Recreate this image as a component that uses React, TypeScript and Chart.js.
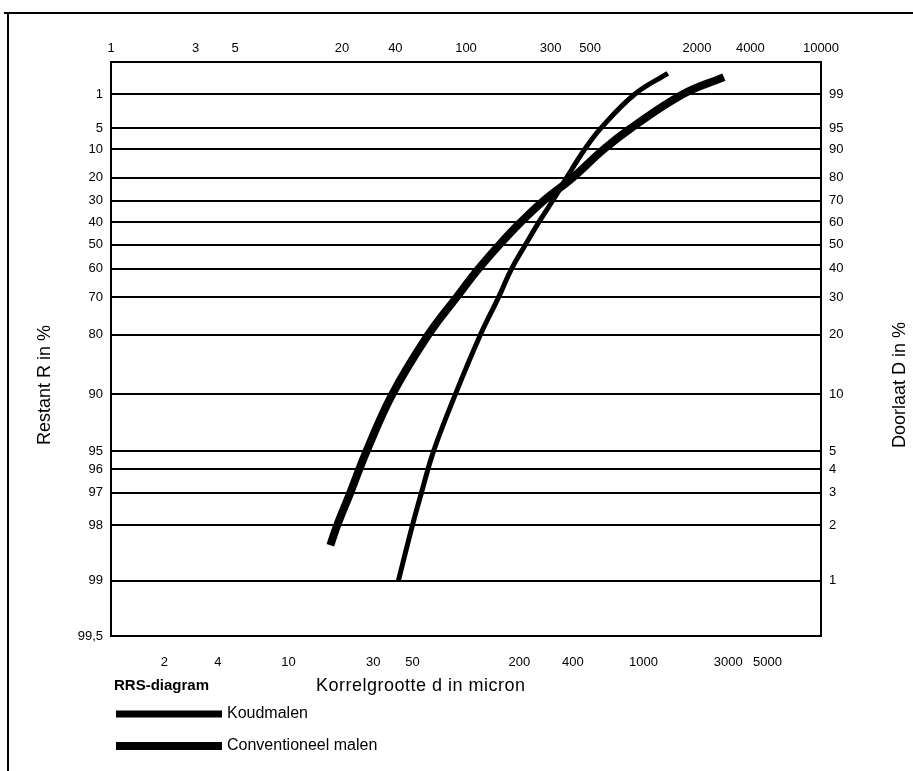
import React, { useEffect, useRef } from "react";
import { Chart, registerables } from "chart.js";

Chart.register(...registerables);

// ---- Data ----
// Restant (R, %) tick values on the RRS (double-log) axis
const R_TICKS = [0.1, 1, 5, 10, 20, 30, 40, 50, 60, 70, 80, 90, 95, 96, 97, 98, 99, 99.5];
const R_LABELS = ["", "1", "5", "10", "20", "30", "40", "50", "60", "70", "80", "90", "95", "96", "97", "98", "99", "99,5"];
const D_LABELS = ["", "99", "95", "90", "80", "70", "60", "50", "40", "30", "20", "10", "5", "4", "3", "2", "1", ""];
const X_TOP_TICKS = [1, 3, 5, 20, 40, 100, 300, 500, 2000, 4000, 10000];
const X_BOTTOM_TICKS = [2, 4, 10, 30, 50, 200, 400, 1000, 3000, 5000];

// Koudmalen (thinner curve): grain size d (micron) and restant R (%)
const KOUD_D = [41.6, 49.9, 56.1, 65.6, 87.2, 120.7, 152.5, 180.6, 216.6, 256.7, 307.6, 368.9, 466.6, 574, 892, 1371];
const KOUD_R = [99, 98, 97, 95, 90, 80, 70, 60, 50, 40, 30, 20, 10, 5, 1, 0.25];

// Conventioneel malen (thick curve)
const CONV_D = [17.2, 18.8, 22.3, 27.5, 38.5, 61.4, 88.4, 117.7, 154.5, 202.9, 273.6, 399, 597, 847, 1665, 2837];
const CONV_R = [98.44, 98, 97, 95, 90, 80, 70, 60, 50, 40, 30, 20, 10, 5, 1, 0.33];

const SERIES_NAMES = ["Koudmalen", "Conventioneel malen"];
const DIAGRAM_TITLE = "RRS-diagram";
const X_TITLE = "Korrelgrootte d in micron";
const Y_TITLE = "Restant R in %";
const Y2_TITLE = "Doorlaat D in %";

const FONT = "'Liberation Sans', Arial, Helvetica, sans-serif";

// RRS transform: ln(ln(100/R))
const rrs = (r: number) => Math.log(Math.log(100 / r));

const toPoints = (d: number[], r: number[]) => d.map((x, i) => ({ x, y: rrs(r[i]) }));

const annotatePlugin = {
  id: "rrsAnnotations",
  afterDraw(chart: any) {
    const ctx = chart.ctx as CanvasRenderingContext2D;
    const { left, right, top, bottom } = chart.chartArea;
    ctx.save();
    // page frame (scan border)
    ctx.strokeStyle = "#000";
    ctx.lineWidth = 2;
    ctx.beginPath();
    ctx.moveTo(4, 13);
    ctx.lineTo(913, 13);
    ctx.moveTo(8, 12);
    ctx.lineTo(8, 771);
    ctx.stroke();

    ctx.fillStyle = "#000";
    ctx.textBaseline = "middle";
    ctx.textAlign = "left";
    ctx.font = `bold 15px ${FONT}`;
    ctx.fillText(DIAGRAM_TITLE, left + 3, bottom + 50);
    ctx.font = `18px ${FONT}`;
    (ctx as any).letterSpacing = "0.5px";
    ctx.fillText(X_TITLE, left + 205, bottom + 50);
    (ctx as any).letterSpacing = "0px";

    // legend
    const widths = [7, 8];
    SERIES_NAMES.forEach((name, i) => {
      const y = bottom + 78 + i * 32;
      ctx.fillRect(left + 5, y - widths[i] / 2, 106, widths[i]);
      ctx.font = `16px ${FONT}`;
      ctx.fillText(name, left + 116, y);
    });

    // rotated axis titles
    const midY = (top + bottom) / 2 + 36;
    ctx.font = `18px ${FONT}`;
    ctx.textAlign = "center";
    ctx.save();
    ctx.translate(45, midY);
    ctx.rotate(-Math.PI / 2);
    ctx.fillText(Y_TITLE, 0, 0);
    ctx.restore();
    ctx.save();
    ctx.translate(right + 79, midY);
    ctx.rotate(-Math.PI / 2);
    ctx.fillText(Y2_TITLE, 0, 0);
    ctx.restore();
    ctx.restore();
  },
};

export default function App() {
  const ref = useRef<HTMLCanvasElement | null>(null);

  useEffect(() => {
    if (!ref.current) return;
    const tickFont = { family: FONT, size: 13 };
    const yTicks = (s: any) => {
      s.ticks = R_TICKS.map((r) => ({ value: rrs(r) }));
    };
    const chart = new Chart(ref.current, {
      type: "line",
      data: {
        datasets: [
          {
            label: SERIES_NAMES[0],
            data: toPoints(KOUD_D, KOUD_R),
            borderColor: "#000",
            backgroundColor: "#000",
            borderWidth: 5,
            pointRadius: 0,
            tension: 0.4,
            fill: false,
          },
          {
            label: SERIES_NAMES[1],
            data: toPoints(CONV_D, CONV_R),
            borderColor: "#000",
            backgroundColor: "#000",
            borderWidth: 8,
            pointRadius: 0,
            tension: 0.4,
            fill: false,
          },
        ],
      },
      options: {
        animation: false,
        responsive: false,
        layout: { padding: 0 },
        plugins: {
          legend: { display: false },
          tooltip: { enabled: false },
        },
        scales: {
          x: {
            type: "logarithmic",
            position: "bottom",
            min: 1,
            max: 10000,
            afterBuildTicks: (s: any) => {
              s.ticks = X_BOTTOM_TICKS.map((v) => ({ value: v }));
            },
            afterFit: (s: any) => {
              s.height = 135;
            },
            ticks: {
              autoSkip: false,
              maxRotation: 0,
              padding: 19,
              color: "#000",
              font: tickFont,
              callback: (v: any) => String(v),
            },
            grid: { display: false, drawTicks: false },
            border: { display: true, color: "#000", width: 2 },
          },
          x2: {
            type: "logarithmic",
            position: "top",
            min: 1,
            max: 10000,
            afterBuildTicks: (s: any) => {
              s.ticks = X_TOP_TICKS.map((v) => ({ value: v }));
            },
            afterFit: (s: any) => {
              s.height = 62;
            },
            ticks: {
              autoSkip: false,
              maxRotation: 0,
              padding: 6,
              color: "#000",
              font: tickFont,
              callback: (v: any) => String(v),
            },
            grid: { display: false, drawTicks: false },
            border: { display: true, color: "#000", width: 2 },
          },
          y: {
            type: "linear",
            position: "left",
            min: rrs(99.5),
            max: rrs(0.1),
            afterBuildTicks: yTicks,
            afterFit: (s: any) => {
              s.width = 111;
            },
            ticks: {
              autoSkip: false,
              padding: 8,
              color: "#000",
              font: tickFont,
              callback: (_v: any, i: number) => R_LABELS[i],
            },
            grid: { display: true, color: "#000", lineWidth: 2, drawTicks: false },
            border: { display: true, color: "#000", width: 2 },
          },
          y2: {
            type: "linear",
            position: "right",
            min: rrs(99.5),
            max: rrs(0.1),
            afterBuildTicks: yTicks,
            afterFit: (s: any) => {
              s.width = 92;
            },
            ticks: {
              autoSkip: false,
              padding: 8,
              color: "#000",
              font: tickFont,
              callback: (_v: any, i: number) => D_LABELS[i],
            },
            grid: { display: false, drawTicks: false },
            border: { display: true, color: "#000", width: 2 },
          },
        },
      },
      plugins: [annotatePlugin],
    } as any);
    return () => chart.destroy();
  }, []);

  return (
    <div style={{ position: "fixed", left: 0, top: 0, width: 913, height: 771, background: "#fff" }}>
      <canvas ref={ref} width={913} height={771} style={{ display: "block", width: 913, height: 771 }} />
    </div>
  );
}
